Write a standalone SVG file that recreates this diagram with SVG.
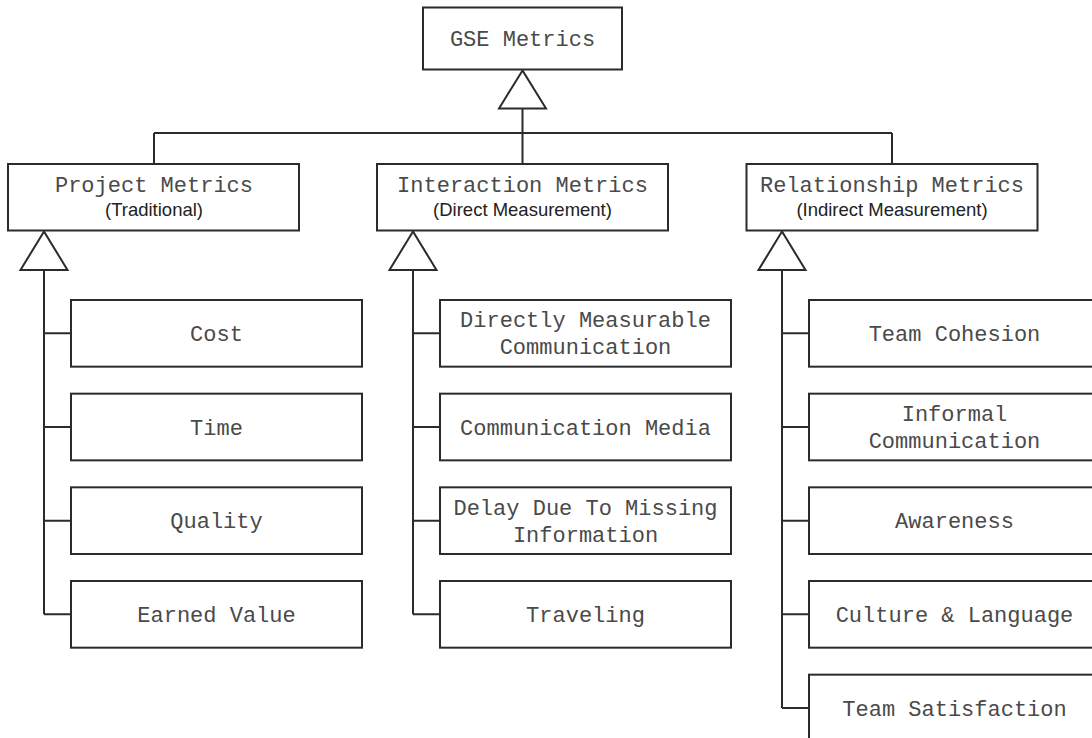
<svg xmlns="http://www.w3.org/2000/svg" width="1092" height="738" viewBox="0 0 1092 738">
<style>
.box{fill:#fff;stroke:#2b2b2b;stroke-width:2}
.ln{fill:none;stroke:#2b2b2b;stroke-width:2}
.tri{fill:#fff;stroke:#2b2b2b;stroke-width:2;stroke-linejoin:miter}
.m{font-family:"Liberation Mono","Courier New",monospace;font-size:22px;fill:#4a4a4a;text-anchor:middle}
.s{font-family:"Liberation Sans",Arial,sans-serif;font-size:18.5px;fill:#222;text-anchor:middle}
</style>
<rect width="1092" height="738" fill="#fff"/>
<g id="connectors">
<path class="ln" d="M522.5,108.5 V164 M154,133 H892 M154,133 V164 M892,133 V164"/>
<path class="ln" d="M44,270 V614.3 M44,333.3 H71 M44,427 H71 M44,520.7 H71 M44,614.3 H71"/>
<path class="ln" d="M413,270 V614.3 M413,333.3 H440 M413,427 H440 M413,520.7 H440 M413,614.3 H440"/>
<path class="ln" d="M782,270 V708 M782,333.3 H809 M782,427 H809 M782,520.7 H809 M782,614.3 H809 M782,708 H809"/>
<polygon class="tri" points="522.5,70.5 499,108.5 546,108.5"/>
<polygon class="tri" points="44,231.5 20.5,270 67.5,270"/>
<polygon class="tri" points="413,231.5 389.5,270 436.5,270"/>
<polygon class="tri" points="782,231.5 758.5,270 805.5,270"/>
</g>
<g id="gse"><rect class="box" x="423" y="7.5" width="199" height="62"/><text class="m" x="522.5" y="46">GSE Metrics</text></g>
<g id="project"><rect class="box" x="8" y="164" width="291" height="66.5"/><text class="m" x="154" y="191.7">Project Metrics</text><text class="s" x="154" y="215.7">(Traditional)</text></g>
<g id="interaction"><rect class="box" x="377" y="164" width="291" height="66.5"/><text class="m" x="522.5" y="191.7">Interaction Metrics</text><text class="s" x="522.5" y="215.7">(Direct Measurement)</text></g>
<g id="relationship"><rect class="box" x="746.5" y="164" width="291" height="66.5"/><text class="m" x="892" y="191.7">Relationship Metrics</text><text class="s" x="892" y="215.7">(Indirect Measurement)</text></g>
<g id="cost"><rect class="box" x="71" y="300" width="291" height="66.67"/><text class="m" x="216.5" y="340.8">Cost</text></g>
<g id="time"><rect class="box" x="71" y="393.67" width="291" height="66.67"/><text class="m" x="216.5" y="434.5">Time</text></g>
<g id="quality"><rect class="box" x="71" y="487.33" width="291" height="66.67"/><text class="m" x="216.5" y="528.2">Quality</text></g>
<g id="earned"><rect class="box" x="71" y="581" width="291" height="66.67"/><text class="m" x="216.5" y="621.8">Earned Value</text></g>
<g id="dmc"><rect class="box" x="440" y="300" width="291" height="66.67"/><text class="m" x="585.5" y="327.3">Directly Measurable</text><text class="m" x="585.5" y="354.1">Communication</text></g>
<g id="media"><rect class="box" x="440" y="393.67" width="291" height="66.67"/><text class="m" x="585.5" y="434.5">Communication Media</text></g>
<g id="delay"><rect class="box" x="440" y="487.33" width="291" height="66.67"/><text class="m" x="585.5" y="514.7">Delay Due To Missing</text><text class="m" x="585.5" y="541.5">Information</text></g>
<g id="travel"><rect class="box" x="440" y="581" width="291" height="66.67"/><text class="m" x="585.5" y="621.8">Traveling</text></g>
<g id="cohesion"><rect class="box" x="809" y="300" width="291" height="66.67"/><text class="m" x="954.5" y="340.8">Team Cohesion</text></g>
<g id="informal"><rect class="box" x="809" y="393.67" width="291" height="66.67"/><text class="m" x="954.5" y="420.8">Informal</text><text class="m" x="954.5" y="447.6">Communication</text></g>
<g id="awareness"><rect class="box" x="809" y="487.33" width="291" height="66.67"/><text class="m" x="954.5" y="528.2">Awareness</text></g>
<g id="culture"><rect class="box" x="809" y="581" width="291" height="66.67"/><text class="m" x="954.5" y="621.8">Culture &amp; Language</text></g>
<g id="satisfaction"><rect class="box" x="809" y="674.67" width="291" height="66.67"/><text class="m" x="954.5" y="715.5">Team Satisfaction</text></g>
</svg>
